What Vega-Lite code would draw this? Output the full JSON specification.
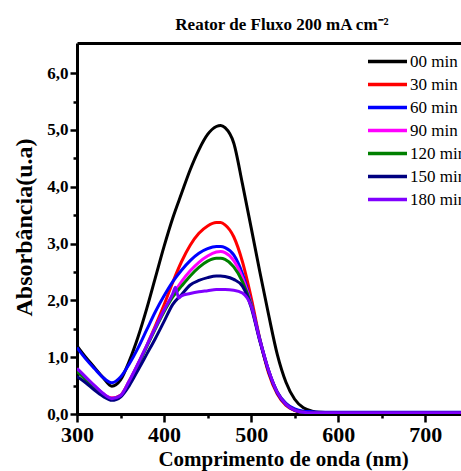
{
  "$schema": "https://vega.github.io/schema/vega-lite/v6.json",
  "autosize": {"type": "none"},
  "padding": {"left": 77, "top": 43, "right": 0, "bottom": 57},
  "width": 384,
  "height": 371,
  "background": "white",
  "config": {
    "view": {"stroke": null},
    "font": "Liberation Serif"
  },
  "title": {
    "text": "Reator de Fluxo 200 mA cm⁻²",
    "font": "Liberation Serif",
    "fontSize": 17,
    "fontWeight": "bold",
    "color": "black",
    "anchor": "middle",
    "baseline": "alphabetic",
    "offset": 13,
    "dx": 13,
    "dy": 17
  },
  "datasets": {
    "spectra": [
      {"t":"00 min","nm":300,"A":1.2},{"t":"00 min","nm":310,"A":1.0},{"t":"00 min","nm":320,"A":0.82},{"t":"00 min","nm":330,"A":0.64},{"t":"00 min","nm":340,"A":0.49},{"t":"00 min","nm":350,"A":0.6},{"t":"00 min","nm":360,"A":0.93},{"t":"00 min","nm":370,"A":1.35},{"t":"00 min","nm":380,"A":1.85},{"t":"00 min","nm":390,"A":2.4},{"t":"00 min","nm":400,"A":2.95},{"t":"00 min","nm":410,"A":3.45},{"t":"00 min","nm":420,"A":3.88},{"t":"00 min","nm":430,"A":4.3},{"t":"00 min","nm":440,"A":4.65},{"t":"00 min","nm":450,"A":4.92},{"t":"00 min","nm":460,"A":5.06},{"t":"00 min","nm":465,"A":5.08},{"t":"00 min","nm":470,"A":5.04},{"t":"00 min","nm":480,"A":4.77},{"t":"00 min","nm":490,"A":4.05},{"t":"00 min","nm":500,"A":3.28},{"t":"00 min","nm":510,"A":2.5},{"t":"00 min","nm":520,"A":1.75},{"t":"00 min","nm":530,"A":1.05},{"t":"00 min","nm":540,"A":0.56},{"t":"00 min","nm":550,"A":0.26},{"t":"00 min","nm":560,"A":0.11},{"t":"00 min","nm":570,"A":0.05},{"t":"00 min","nm":580,"A":0.03},{"t":"00 min","nm":600,"A":0.02},{"t":"00 min","nm":650,"A":0.02},{"t":"00 min","nm":700,"A":0.02},{"t":"00 min","nm":750,"A":0.02},{"t":"00 min","nm":800,"A":0.02},

      {"t":"30 min","nm":300,"A":0.76},{"t":"30 min","nm":310,"A":0.62},{"t":"30 min","nm":320,"A":0.48},{"t":"30 min","nm":330,"A":0.35},{"t":"30 min","nm":340,"A":0.28},{"t":"30 min","nm":350,"A":0.33},{"t":"30 min","nm":360,"A":0.58},{"t":"30 min","nm":370,"A":0.88},{"t":"30 min","nm":380,"A":1.2},{"t":"30 min","nm":390,"A":1.55},{"t":"30 min","nm":400,"A":1.92},{"t":"30 min","nm":410,"A":2.32},{"t":"30 min","nm":420,"A":2.68},{"t":"30 min","nm":430,"A":2.97},{"t":"30 min","nm":440,"A":3.18},{"t":"30 min","nm":450,"A":3.31},{"t":"30 min","nm":460,"A":3.37},{"t":"30 min","nm":465,"A":3.37},{"t":"30 min","nm":470,"A":3.33},{"t":"30 min","nm":480,"A":3.12},{"t":"30 min","nm":490,"A":2.68},{"t":"30 min","nm":500,"A":2.05},{"t":"30 min","nm":510,"A":1.32},{"t":"30 min","nm":520,"A":0.72},{"t":"30 min","nm":530,"A":0.35},{"t":"30 min","nm":540,"A":0.15},{"t":"30 min","nm":550,"A":0.06},{"t":"30 min","nm":560,"A":0.03},{"t":"30 min","nm":570,"A":0.02},{"t":"30 min","nm":580,"A":0.02},{"t":"30 min","nm":600,"A":0.02},{"t":"30 min","nm":650,"A":0.02},{"t":"30 min","nm":700,"A":0.02},{"t":"30 min","nm":750,"A":0.02},{"t":"30 min","nm":800,"A":0.02},

      {"t":"60 min","nm":300,"A":1.17},{"t":"60 min","nm":310,"A":0.97},{"t":"60 min","nm":320,"A":0.8},{"t":"60 min","nm":330,"A":0.64},{"t":"60 min","nm":340,"A":0.55},{"t":"60 min","nm":350,"A":0.65},{"t":"60 min","nm":360,"A":0.88},{"t":"60 min","nm":370,"A":1.16},{"t":"60 min","nm":380,"A":1.48},{"t":"60 min","nm":390,"A":1.8},{"t":"60 min","nm":400,"A":2.08},{"t":"60 min","nm":410,"A":2.33},{"t":"60 min","nm":420,"A":2.53},{"t":"60 min","nm":430,"A":2.7},{"t":"60 min","nm":440,"A":2.83},{"t":"60 min","nm":450,"A":2.91},{"t":"60 min","nm":460,"A":2.95},{"t":"60 min","nm":465,"A":2.95},{"t":"60 min","nm":470,"A":2.93},{"t":"60 min","nm":480,"A":2.8},{"t":"60 min","nm":490,"A":2.47},{"t":"60 min","nm":500,"A":1.95},{"t":"60 min","nm":510,"A":1.32},{"t":"60 min","nm":520,"A":0.77},{"t":"60 min","nm":530,"A":0.39},{"t":"60 min","nm":540,"A":0.19},{"t":"60 min","nm":550,"A":0.09},{"t":"60 min","nm":560,"A":0.05},{"t":"60 min","nm":570,"A":0.04},{"t":"60 min","nm":580,"A":0.03},{"t":"60 min","nm":600,"A":0.03},{"t":"60 min","nm":650,"A":0.03},{"t":"60 min","nm":700,"A":0.03},{"t":"60 min","nm":750,"A":0.03},{"t":"60 min","nm":800,"A":0.03},

      {"t":"90 min","nm":300,"A":0.8},{"t":"90 min","nm":310,"A":0.65},{"t":"90 min","nm":320,"A":0.5},{"t":"90 min","nm":330,"A":0.36},{"t":"90 min","nm":340,"A":0.28},{"t":"90 min","nm":350,"A":0.33},{"t":"90 min","nm":360,"A":0.58},{"t":"90 min","nm":370,"A":0.88},{"t":"90 min","nm":380,"A":1.2},{"t":"90 min","nm":390,"A":1.52},{"t":"90 min","nm":400,"A":1.82},{"t":"90 min","nm":410,"A":2.1},{"t":"90 min","nm":420,"A":2.33},{"t":"90 min","nm":430,"A":2.52},{"t":"90 min","nm":440,"A":2.67},{"t":"90 min","nm":450,"A":2.78},{"t":"90 min","nm":460,"A":2.85},{"t":"90 min","nm":465,"A":2.86},{"t":"90 min","nm":470,"A":2.84},{"t":"90 min","nm":480,"A":2.7},{"t":"90 min","nm":490,"A":2.4},{"t":"90 min","nm":500,"A":1.93},{"t":"90 min","nm":510,"A":1.3},{"t":"90 min","nm":520,"A":0.76},{"t":"90 min","nm":530,"A":0.38},{"t":"90 min","nm":540,"A":0.17},{"t":"90 min","nm":550,"A":0.07},{"t":"90 min","nm":560,"A":0.03},{"t":"90 min","nm":570,"A":0.02},{"t":"90 min","nm":580,"A":0.02},{"t":"90 min","nm":600,"A":0.02},{"t":"90 min","nm":650,"A":0.02},{"t":"90 min","nm":700,"A":0.02},{"t":"90 min","nm":750,"A":0.02},{"t":"90 min","nm":800,"A":0.02},

      {"t":"120 min","nm":300,"A":0.75},{"t":"120 min","nm":310,"A":0.61},{"t":"120 min","nm":320,"A":0.47},{"t":"120 min","nm":330,"A":0.34},{"t":"120 min","nm":340,"A":0.27},{"t":"120 min","nm":350,"A":0.32},{"t":"120 min","nm":360,"A":0.56},{"t":"120 min","nm":370,"A":0.86},{"t":"120 min","nm":380,"A":1.18},{"t":"120 min","nm":390,"A":1.5},{"t":"120 min","nm":400,"A":1.8},{"t":"120 min","nm":410,"A":2.06},{"t":"120 min","nm":420,"A":2.25},{"t":"120 min","nm":430,"A":2.43},{"t":"120 min","nm":440,"A":2.58},{"t":"120 min","nm":450,"A":2.69},{"t":"120 min","nm":460,"A":2.74},{"t":"120 min","nm":465,"A":2.74},{"t":"120 min","nm":470,"A":2.72},{"t":"120 min","nm":480,"A":2.59},{"t":"120 min","nm":490,"A":2.33},{"t":"120 min","nm":500,"A":1.92},{"t":"120 min","nm":510,"A":1.3},{"t":"120 min","nm":520,"A":0.76},{"t":"120 min","nm":530,"A":0.38},{"t":"120 min","nm":540,"A":0.17},{"t":"120 min","nm":550,"A":0.07},{"t":"120 min","nm":560,"A":0.03},{"t":"120 min","nm":570,"A":0.02},{"t":"120 min","nm":580,"A":0.02},{"t":"120 min","nm":600,"A":0.02},{"t":"120 min","nm":650,"A":0.02},{"t":"120 min","nm":700,"A":0.02},{"t":"120 min","nm":750,"A":0.02},{"t":"120 min","nm":800,"A":0.02},

      {"t":"150 min","nm":300,"A":0.66},{"t":"150 min","nm":310,"A":0.55},{"t":"150 min","nm":320,"A":0.42},{"t":"150 min","nm":330,"A":0.31},{"t":"150 min","nm":340,"A":0.24},{"t":"150 min","nm":350,"A":0.3},{"t":"150 min","nm":360,"A":0.5},{"t":"150 min","nm":370,"A":0.77},{"t":"150 min","nm":380,"A":1.05},{"t":"150 min","nm":390,"A":1.33},{"t":"150 min","nm":400,"A":1.63},{"t":"150 min","nm":410,"A":1.93},{"t":"150 min","nm":420,"A":2.1},{"t":"150 min","nm":430,"A":2.27},{"t":"150 min","nm":440,"A":2.35},{"t":"150 min","nm":450,"A":2.4},{"t":"150 min","nm":460,"A":2.43},{"t":"150 min","nm":465,"A":2.43},{"t":"150 min","nm":470,"A":2.42},{"t":"150 min","nm":480,"A":2.37},{"t":"150 min","nm":490,"A":2.25},{"t":"150 min","nm":500,"A":1.88},{"t":"150 min","nm":510,"A":1.28},{"t":"150 min","nm":520,"A":0.75},{"t":"150 min","nm":530,"A":0.37},{"t":"150 min","nm":540,"A":0.17},{"t":"150 min","nm":550,"A":0.07},{"t":"150 min","nm":560,"A":0.03},{"t":"150 min","nm":570,"A":0.02},{"t":"150 min","nm":580,"A":0.02},{"t":"150 min","nm":600,"A":0.02},{"t":"150 min","nm":650,"A":0.02},{"t":"150 min","nm":700,"A":0.02},{"t":"150 min","nm":750,"A":0.02},{"t":"150 min","nm":800,"A":0.02},

      {"t":"180 min","nm":300,"A":0.8},{"t":"180 min","nm":310,"A":0.65},{"t":"180 min","nm":320,"A":0.5},{"t":"180 min","nm":330,"A":0.36},{"t":"180 min","nm":340,"A":0.27},{"t":"180 min","nm":350,"A":0.32},{"t":"180 min","nm":360,"A":0.58},{"t":"180 min","nm":370,"A":0.88},{"t":"180 min","nm":380,"A":1.2},{"t":"180 min","nm":390,"A":1.52},{"t":"180 min","nm":400,"A":1.83},{"t":"180 min","nm":410,"A":2.12},{"t":"180 min","nm":413,"A":2.23},{"t":"180 min","nm":417,"A":2.04},{"t":"180 min","nm":420,"A":2.08},{"t":"180 min","nm":430,"A":2.12},{"t":"180 min","nm":440,"A":2.15},{"t":"180 min","nm":450,"A":2.17},{"t":"180 min","nm":460,"A":2.19},{"t":"180 min","nm":465,"A":2.19},{"t":"180 min","nm":470,"A":2.19},{"t":"180 min","nm":480,"A":2.18},{"t":"180 min","nm":490,"A":2.13},{"t":"180 min","nm":500,"A":1.9},{"t":"180 min","nm":510,"A":1.3},{"t":"180 min","nm":520,"A":0.77},{"t":"180 min","nm":530,"A":0.38},{"t":"180 min","nm":540,"A":0.17},{"t":"180 min","nm":550,"A":0.07},{"t":"180 min","nm":560,"A":0.03},{"t":"180 min","nm":570,"A":0.02},{"t":"180 min","nm":580,"A":0.02},{"t":"180 min","nm":600,"A":0.02},{"t":"180 min","nm":650,"A":0.02},{"t":"180 min","nm":700,"A":0.02},{"t":"180 min","nm":750,"A":0.02},{"t":"180 min","nm":800,"A":0.02}
    ]
  },
  "data": {"name": "spectra"},
  "resolve": {"axis": {"x": "independent", "y": "independent"}},
  "layer": [
    {
      "mark": {"type": "line", "strokeWidth": 3, "interpolate": "monotone", "clip": true},
      "encoding": {
        "x": {
          "field": "nm", "type": "quantitative",
          "scale": {"domain": [300, 741], "nice": false, "zero": false},
          "axis": {
            "orient": "bottom",
            "title": "Comprimento de onda (nm)",
            "titleFont": "Liberation Serif", "titleFontSize": 21, "titleFontWeight": "bold", "titleColor": "black",
            "titleX": 206, "titleY": 51, "titleBaseline": "alphabetic", "titleAnchor": "middle", "titleAlign": "center",
            "values": [300, 350, 400, 450, 500, 550, 600, 650, 700],
            "labelExpr": "datum.value % 100 === 0 ? format(datum.value, 'd') : ''",
            "labelFont": "Liberation Serif", "labelFontSize": 22, "labelFontWeight": "bold", "labelColor": "black",
            "labelPadding": 2, "labelFlush": false, "labelOverlap": false,
            "tickSize": {"condition": {"test": "datum.value % 100 !== 0", "value": 4}, "value": 8},
            "tickWidth": 2.5, "tickColor": "black",
            "domainColor": "black", "domainWidth": 3, "grid": false
          }
        },
        "y": {
          "field": "A", "type": "quantitative",
          "scale": {"domain": [0, 6.53], "nice": false},
          "axis": {
            "orient": "left",
            "title": "Absorbância(u.a)",
            "titleFont": "Liberation Serif", "titleFontSize": 24, "titleFontWeight": "bold", "titleColor": "black",
            "titleX": -53, "titleY": 184, "titleAngle": -90, "titleBaseline": "middle", "titleAlign": "center",
            "values": [0, 0.5, 1, 1.5, 2, 2.5, 3, 3.5, 4, 4.5, 5, 5.5, 6],
            "labelExpr": "datum.value % 1 === 0 ? replace(format(datum.value, '.1f'), '.', ',') : ''",
            "labelFont": "Liberation Serif", "labelFontSize": 17, "labelFontWeight": "bold", "labelColor": "black",
            "labelPadding": 2, "labelFlush": false, "labelOverlap": false,
            "tickSize": {"condition": {"test": "datum.value % 1 !== 0", "value": 4}, "value": 7},
            "tickWidth": 2.5, "tickColor": "black",
            "domainColor": "black", "domainWidth": 3, "grid": false
          }
        },
        "color": {
          "field": "t", "type": "nominal",
          "scale": {
            "domain": ["00 min", "30 min", "60 min", "90 min", "120 min", "150 min", "180 min"],
            "range": ["#000000", "#ff0000", "#0000ff", "#ff00ff", "#008000", "#000080", "#8000ff"]
          },
          "legend": {
            "title": null,
            "orient": "none",
            "legendX": 301,
            "legendY": 9,
            "padding": 0,
            "symbolType": "M-2.6,0H2.6",
            "symbolSize": 225,
            "symbolStrokeWidth": 3.5,
            "symbolFillColor": "transparent",
            "labelFont": "Liberation Serif", "labelFontSize": 17, "labelColor": "black",
            "labelOffset": 13,
            "rowPadding": 5,
            "labelLimit": 200
          }
        }
      }
    },
    {
      "mark": {"type": "line", "opacity": 0, "clip": true},
      "encoding": {
        "x": {
          "field": "nm", "type": "quantitative",
          "axis": {"orient": "top", "title": null, "labels": false, "ticks": false, "domainColor": "black", "domainWidth": 3, "grid": false}
        },
        "y": {
          "field": "A", "type": "quantitative",
          "axis": null
        }
      }
    }
  ]
}
